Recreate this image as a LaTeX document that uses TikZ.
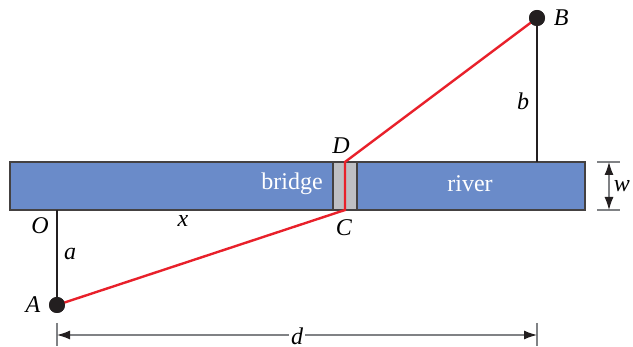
\documentclass[tikz,border=0pt]{standalone}
\usepackage{fontspec}
\setmainfont{Liberation Serif}
\usepackage{tikz}
\usepackage{xcolor}
\usetikzlibrary{arrows.meta,positioning,calc}
\definecolor{riverblue}{HTML}{6A8BC9}
\definecolor{bridgegray}{HTML}{BEBFC3}
\definecolor{ink}{HTML}{231F20}
\definecolor{dimgray}{HTML}{808285}
\definecolor{pathred}{HTML}{E8202A}
\tikzset{
  riverbox/.style={draw=ink!85,fill=riverblue,line width=0.6pt,
                   minimum width=287.5pt,minimum height=24pt,inner sep=0pt},
  bridgebox/.style={draw=ink!85,fill=bridgegray,line width=0.6pt,
                    minimum width=12pt,minimum height=24pt,inner sep=0pt},
  endpoint/.style={circle,fill=ink,inner sep=0pt,minimum size=8pt},
  varlabel/.style={font=\large\itshape,inner sep=1pt},
  pathline/.style={pathred,line width=1.2pt},
  dimline/.style={dimgray,line width=0.6pt},
  dimarr/.style={{Latex[length=6.5pt,width=4.5pt,color=ink]}-{Latex[length=6.5pt,width=4.5pt,color=ink]},
                 line width=0.6pt,dimgray}
}

\begin{document}
\begin{tikzpicture}[x=0.5pt,y=-0.5pt,
   wordlabel/.style={font=\large,text=white,inner sep=0pt}]
  \useasboundingbox (0,0) rectangle (633,347);

  % River and bridge
  \node[riverbox] (river) at (297.5,186) {};
  \node[bridgebox] (bridge) at (345,186) {};
  \node[wordlabel] (bridgetext) at (292,184) {bridge};
  \node[wordlabel] (rivertext) at (470,184) {river};

  % Points
  \node[endpoint] (A) at (57,305) {};
  \node[endpoint] (B) at (537,18) {};
  \coordinate (O) at (57,210);
  \coordinate (C) at (345,210);
  \coordinate (D) at (345,162);
  \coordinate (Bfoot) at (537,162);

  \draw[ink,line width=0.7pt] (O) -- (A.center);
  \draw[ink,line width=0.7pt] (B.center) -- (Bfoot);
  \draw[pathline] (A.center) -- (C) -- (D) -- (B.center);
  \node[endpoint] at (A) {};
  \node[endpoint] at (B) {};

  % Labels
  \node[varlabel,left=3pt of A] (Alabel) {A};
  \node[varlabel,right=3pt of B] (Blabel) {B};
  \node[varlabel] (Clabel) at (344,228) {C};
  \node[varlabel] (Dlabel) at (341,146) {D};
  \node[varlabel] (Olabel) at (40,226) {O};
  \node[varlabel] (alabel) at (70,254) {a};
  \node[varlabel] (blabel) at (523,101) {b};
  \node[varlabel] (xlabel) at (183,221) {x};

  % Width of the river
  \coordinate (wtop0) at (597,162);
  \coordinate (wtop1) at (620,162);
  \coordinate (wbot0) at (597,210);
  \coordinate (wbot1) at (620,210);
  \draw[dimline] (wtop0) -- (wtop1);
  \draw[dimline] (wbot0) -- (wbot1);
  \coordinate (wa) at (609,162);
  \coordinate (wb) at (609,210);
  \draw[dimarr] (wa) -- (wb);
  \node[varlabel] (wlabel) at (622,186) {w};

  % Horizontal distance
  \coordinate (dl0) at (57,323);
  \coordinate (dl1) at (57,346);
  \coordinate (dr0) at (537,323);
  \coordinate (dr1) at (537,346);
  \draw[dimline] (dl0) -- (dl1);
  \draw[dimline] (dr0) -- (dr1);
  \coordinate (da) at (57,335);
  \coordinate (db) at (537,335);
  \draw[dimarr] (da) -- (db);
  \node[varlabel,fill=white] (dlabel) at (297,336) {d};
\end{tikzpicture}
\end{document}
